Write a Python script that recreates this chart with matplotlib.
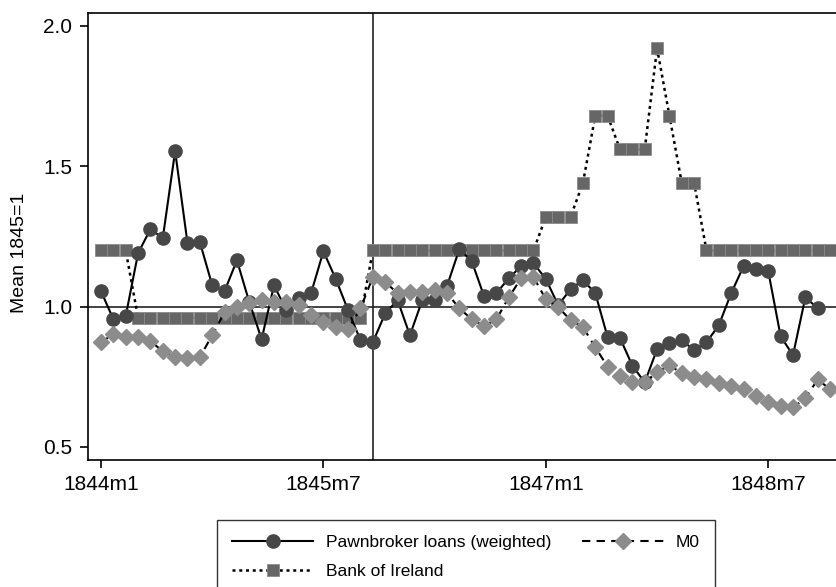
import matplotlib
matplotlib.use("Agg")
import matplotlib.pyplot as plt

plt.rcParams['font.family'] = ['Liberation Sans', 'DejaVu Sans']

# monthly index, 1844m1 .. 1848m12
months = [f"{y}m{m}" for y in range(1844, 1849) for m in range(1, 13)]

pawnbroker = [1.055, 0.955, 0.966, 1.19, 1.276, 1.244, 1.554, 1.226, 1.23, 1.076,
              1.055, 1.165, 1.016, 0.884, 1.076, 0.987, 1.03, 1.048, 1.197, 1.098,
              0.987, 0.88, 0.873, 0.976, 1.023, 0.898, 1.023, 1.023, 1.073, 1.205,
              1.162, 1.037, 1.048, 1.101, 1.144, 1.155, 1.098, 1.005, 1.062, 1.094,
              1.048, 0.891, 0.888, 0.79, 0.73, 0.848, 0.87, 0.88, 0.845, 0.873,
              0.934, 1.048, 1.144, 1.133, 1.126, 0.894, 0.827, 1.033, 0.994]

bank_ireland = [1.2, 1.2, 1.2,
                0.96, 0.96, 0.96, 0.96, 0.96, 0.96, 0.96, 0.96, 0.96, 0.96,
                0.96, 0.96, 0.96, 0.96, 0.96, 0.96, 0.96, 0.96, 0.96,
                1.2, 1.2, 1.2, 1.2, 1.2, 1.2, 1.2, 1.2, 1.2, 1.2, 1.2, 1.2, 1.2, 1.2,
                1.32, 1.32, 1.32, 1.44, 1.68, 1.68, 1.56, 1.56, 1.56, 1.92,
                1.68, 1.44, 1.44,
                1.2, 1.2, 1.2, 1.2, 1.2, 1.2, 1.2, 1.2, 1.2, 1.2, 1.2]

m0 = [0.873, 0.902, 0.891, 0.891, 0.877, 0.841, 0.82, 0.816, 0.82, 0.898,
      0.98, 0.998, 1.012, 1.023, 1.016, 1.016, 1.005, 0.969, 0.944, 0.927,
      0.92, 0.994, 1.105, 1.087, 1.048, 1.051, 1.051, 1.058, 1.048, 0.994,
      0.955, 0.93, 0.955, 1.033, 1.101, 1.105, 1.026, 0.998, 0.952, 0.927,
      0.855, 0.786, 0.754, 0.733, 0.73, 0.766, 0.791, 0.763, 0.748, 0.741,
      0.727, 0.716, 0.705, 0.681, 0.659, 0.645, 0.641, 0.673, 0.741, 0.705]

xticks = [0, 18, 36, 54]
break_month = 22  # 1845m11

fig = plt.figure(figsize=(8.36, 5.87), dpi=100)
ax = fig.add_axes([0.1047, 0.2164, 0.8953, 0.7615])

ax.axhline(1.0, color='#222222', lw=1.2, zorder=1)
ax.axvline(break_month, color='#222222', lw=1.2, zorder=1)

l_boi, = ax.plot(range(len(bank_ireland)), bank_ireland, linestyle=(0, (1.2, 1.5)),
                 color='black', lw=1.8, marker='s', markersize=9,
                 markerfacecolor='#666666', markeredgecolor='#8a8a8a',
                 markeredgewidth=0.6, zorder=2)
l_pawn, = ax.plot(range(len(pawnbroker)), pawnbroker, '-', color='black', lw=1.5,
                  marker='o', markersize=9.5, markerfacecolor='#474747',
                  markeredgecolor='#474747', zorder=3)
l_m0, = ax.plot(range(len(m0)), m0, linestyle=(0, (4, 3)), color='black', lw=1.5,
                marker='D', markersize=8, markerfacecolor='#8c8c8c',
                markeredgecolor='#8c8c8c', zorder=4)

ax.set_xlim(-1.09, 59.48)
ax.set_ylim(0.4537, 2.046)
ax.set_xticks(xticks)
ax.set_xticklabels([months[i] for i in xticks])
ax.set_yticks([0.5, 1.0, 1.5, 2.0])
ax.set_yticklabels(['0.5', '1.0', '1.5', '2.0'])
ax.tick_params(axis='both', labelsize=15, length=6, width=1.2, pad=5, color='black')
ax.set_ylabel('Mean 1845=1', fontsize=14)
ax.yaxis.set_label_coords(-0.0795, 0.463)
ax.spines['right'].set_visible(False)
for s in ['left', 'top', 'bottom']:
    ax.spines[s].set_linewidth(1.2)

leg = fig.legend([l_pawn, l_boi, l_m0],
                 ['Pawnbroker loans (weighted)', 'Bank of Ireland', 'M0'],
                 ncol=2, loc='upper left', bbox_to_anchor=(217 / 836, 1 - 520 / 587),
                 borderaxespad=0, fontsize=12.5, numpoints=1, handlelength=4.7,
                 handletextpad=0.7, columnspacing=1.8, labelspacing=0.82,
                 borderpad=0.85, fancybox=False, frameon=True, edgecolor='black')
leg.get_frame().set_linewidth(1.0)

fig.savefig('out.png', dpi=100, facecolor='white')
